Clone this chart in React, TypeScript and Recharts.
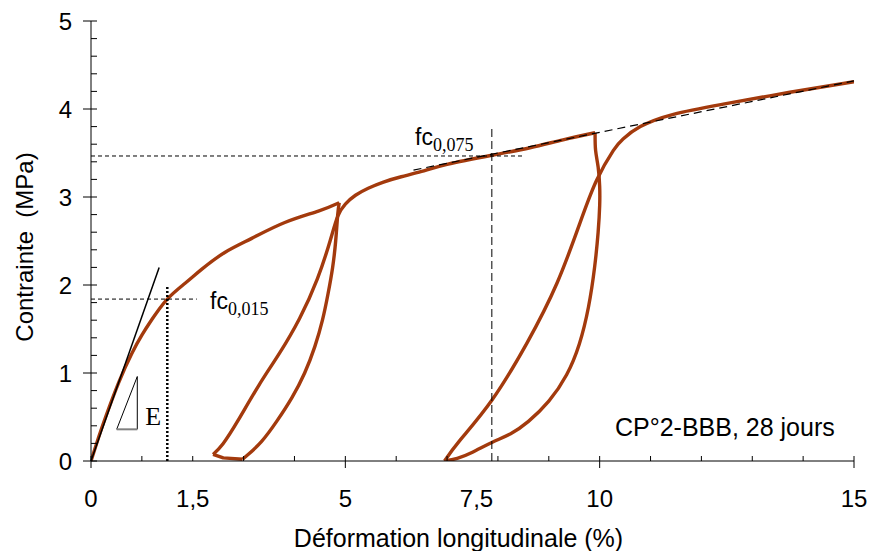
import React from 'react';
import { ComposedChart, Line, XAxis, YAxis, ReferenceLine, ReferenceDot, Label } from 'recharts';

const SANS = '"Liberation Sans", Arial, sans-serif';
const SERIF = '"Liberation Serif", "Times New Roman", serif';
const CURVE = '#A33A0D';

// strain (%) / stress (MPa), one array per branch
const loadA: [number, number][] = [
  [0, 0], [0.15, 0.27], [0.3, 0.52], [0.55, 0.9], [0.8, 1.22], [1.0, 1.43], [1.2, 1.61],
  [1.5, 1.84], [1.85, 2.02], [2.18, 2.18], [2.63, 2.37], [3.16, 2.53], [3.81, 2.71],
  [4.47, 2.84], [4.88, 2.935],
];
const unloadA: [number, number][] = [
  [4.88, 2.935], [4.85, 2.8], [4.81, 2.5], [4.75, 2.2], [4.66, 1.9], [4.55, 1.6],
  [4.4, 1.3], [4.2, 1.0], [3.95, 0.72], [3.65, 0.45], [3.35, 0.22], [3.1, 0.08], [2.98, 0.02],
];
const footA: [number, number][] = [[2.98, 0.02], [2.6, 0.035], [2.4, 0.075]];
const reloadA: [number, number][] = [
  [2.4, 0.075], [2.6, 0.2], [2.9, 0.47], [3.3, 0.86], [3.7, 1.22], [4.1, 1.62], [4.45, 2.07],
  [4.7, 2.5], [4.85, 2.78], [5.0, 2.92], [5.2, 3.02], [5.45, 3.1], [5.75, 3.17], [6.1, 3.23],
  [6.5, 3.29], [7.0, 3.37], [7.88, 3.474], [8.63, 3.56], [9.28, 3.65], [9.91, 3.73],
];
const unloadB: [number, number][] = [
  [9.91, 3.73], [9.92, 3.53], [9.97, 3.34], [10.0, 3.12], [10.0, 2.9], [9.97, 2.6],
  [9.9, 2.2], [9.78, 1.75], [9.6, 1.33], [9.35, 0.98], [9.0, 0.68], [8.6, 0.45],
  [8.25, 0.31], [7.88, 0.21], [7.5, 0.1], [7.2, 0.03], [6.95, 0],
];
const reloadB: [number, number][] = [
  [6.95, 0], [7.26, 0.24], [7.88, 0.69], [8.57, 1.34], [9.16, 2.02], [9.61, 2.7],
  [9.94, 3.19], [10.27, 3.53], [10.46, 3.66], [10.8, 3.8], [11.45, 3.94], [12.43, 4.055],
  [13.74, 4.19], [15, 4.31],
];

// construction lines
const tangentE: [number, number][] = [[0, 0], [1.34, 2.2]];
const triangleE: [number, number][] = [[0.505, 0.36], [0.91, 0.36], [0.91, 0.96]];
const fc015Level = 1.84;
const fc015Strain = 1.5;
const fc075Level = 3.466;
const fc075Strain = 7.88;
const tangentFc: [number, number][] = [[6.34, 3.306], [15, 4.32]];

// axes
const xTicks = [0, 1, 2, 3, 4, 5, 6, 7, 7.5, 8, 9, 10, 11, 12, 13, 14, 15];
const xLabelAt = [0, 2, 5, 7.5, 10, 15];
const xLabelText = ['0', '1,5', '5', '7,5', '10', '15'];
const yTicks = [0, 0.2, 0.4, 0.6, 0.8, 1, 1.2, 1.4, 1.6, 1.8, 2, 2.2, 2.4, 2.6, 2.8, 3, 3.2, 3.4, 3.6, 3.8, 4, 4.2, 4.4, 4.6, 4.8, 5];

const branches = [
  { pts: loadA, type: 'natural' },
  { pts: unloadA, type: 'natural' },
  { pts: footA, type: 'linear' },
  { pts: reloadA, type: 'natural' },
  { pts: unloadB, type: 'natural' },
  { pts: reloadB, type: 'natural' },
];

const toPts = (arr: [number, number][]) => arr.map(([x, y]) => ({ x, y }));
const seg = (a: [number, number], b: [number, number]) => [{ x: a[0], y: a[1] }, { x: b[0], y: b[1] }];

function XTick({ x, y, payload }: any) {
  const v = payload.value;
  const i = xLabelAt.indexOf(v);
  const major = v % 5 === 0;
  return (
    <g>
      {Number.isInteger(v) && (
        <line x1={x} x2={x} y1={y - 5} y2={major ? y + 7 : y} stroke="#000" strokeWidth={1} />
      )}
      {i >= 0 && (
        <text x={x + (v === 7.5 ? 4 : 0)} y={y + 46} textAnchor="middle" fontSize={24} fontFamily={SANS} fill="#000">
          {xLabelText[i]}
        </text>
      )}
    </g>
  );
}

function YTick({ x, y, payload }: any) {
  const v = payload.value;
  const major = Math.abs(v - Math.round(v)) < 1e-6;
  return (
    <g>
      <line x1={major ? x - 8 : x} x2={x + 6} y1={y} y2={y} stroke="#000" strokeWidth={1} />
      {major && (
        <text x={x - 19} y={y + 8.5} textAnchor="end" fontSize={24} fontFamily={SANS} fill="#000">
          {Math.round(v)}
        </text>
      )}
    </g>
  );
}

function XTitle({ viewBox }: any) {
  const { x, y, width } = viewBox;
  return (
    <text x={x + width / 2 - 14} y={y + 86} textAnchor="middle" fontSize={25} fontFamily={SANS} fill="#000">
      Déformation longitudinale (%)
    </text>
  );
}

function YTitle({ viewBox }: any) {
  const { x, y, height } = viewBox;
  const cx = x + 24;
  const cy = y + height / 2 + 6;
  return (
    <text x={cx} y={cy} transform={`rotate(-90 ${cx} ${cy})`} textAnchor="middle" dominantBaseline="central"
      fontSize={24} fontFamily={SANS} fill="#000" style={{ whiteSpace: 'pre' }}>
      {'Contrainte  (MPa)'}
    </text>
  );
}

const fcLabel = (sub: string) => (props: any) => {
  const { x, y } = props.viewBox;
  return (
    <text x={x} y={y} fontSize={23} fontFamily={SANS} fill="#000">
      fc
      <tspan dy={6} fontSize={18} fontFamily={SERIF}>{sub}</tspan>
    </text>
  );
};

const plainLabel = (text: string, family: string, size: number, anchor: string) => (props: any) => {
  const { x, y } = props.viewBox;
  return (
    <text x={x} y={y} fontSize={size} fontFamily={family} textAnchor={anchor} fill="#000">
      {text}
    </text>
  );
};

export default function App() {
  return (
    <div style={{ width: 869, height: 551, background: '#fff' }}>
      <style>{'body{margin:0}'}</style>
      <ComposedChart width={869} height={551} margin={{ top: 21, right: 15, bottom: 0, left: 0 }}>
        <XAxis type="number" dataKey="x" domain={[0, 15]} ticks={xTicks} interval={0}
          tick={(p: any) => <XTick {...p} />} tickLine={false} tickSize={0} tickMargin={0}
          axisLine={{ stroke: '#000', strokeWidth: 1 }} height={90} allowDataOverflow>
          <Label content={(p: any) => <XTitle {...p} />} />
        </XAxis>
        <YAxis type="number" domain={[0, 5]} ticks={yTicks} interval={0}
          tick={(p: any) => <YTick {...p} />} tickLine={false} tickSize={0} tickMargin={0}
          axisLine={{ stroke: '#000', strokeWidth: 1 }} width={91} allowDataOverflow>
          <Label content={(p: any) => <YTitle {...p} />} />
        </YAxis>

        {branches.map((b, i) => (
          <Line key={i} data={toPts(b.pts)} dataKey="y" type={b.type as any} stroke={CURVE}
            strokeWidth={3.4} strokeLinejoin="round" dot={false} activeDot={false}
            isAnimationActive={false} />
        ))}

        <ReferenceLine segment={seg(tangentE[0], tangentE[1])} stroke="#000" strokeWidth={1.5} ifOverflow="visible" />
        <ReferenceLine segment={seg(triangleE[0], triangleE[2])} stroke="#000" strokeWidth={1} ifOverflow="visible" />
        <ReferenceLine segment={seg(triangleE[1], triangleE[2])} stroke="#000" strokeWidth={1} ifOverflow="visible" />
        <ReferenceLine segment={seg(triangleE[0], triangleE[1])} stroke="#808080" strokeWidth={2} ifOverflow="visible" />

        <ReferenceLine segment={seg([0, fc015Level], [2.08, fc015Level])} stroke="#000" strokeWidth={1} strokeDasharray="4 3" ifOverflow="visible" />
        <ReferenceLine segment={seg([fc015Strain, 0], [fc015Strain, 2.0])} stroke="#000" strokeWidth={2.5} strokeDasharray="2 2" ifOverflow="visible" />
        <ReferenceLine segment={seg([0, fc075Level], [8.53, fc075Level])} stroke="#000" strokeWidth={1} strokeDasharray="4 3" ifOverflow="visible" />
        <ReferenceLine segment={seg([fc075Strain, 0], [fc075Strain, 3.78])} stroke="#000" strokeWidth={1} strokeDasharray="8 4" ifOverflow="visible" />
        <ReferenceLine segment={seg(tangentFc[0], tangentFc[1])} stroke="#000" strokeWidth={1.2} strokeDasharray="8 5" ifOverflow="visible" />

        <ReferenceDot x={2.34} y={1.724} r={0} fill="none" stroke="none" ifOverflow="visible" label={fcLabel('0,015')} />
        <ReferenceDot x={6.37} y={3.59} r={0} fill="none" stroke="none" ifOverflow="visible" label={fcLabel('0,075')} />
        <ReferenceDot x={1.225} y={0.406} r={0} fill="none" stroke="none" ifOverflow="visible" label={plainLabel('E', SERIF, 26, 'middle')} />
        <ReferenceDot x={10.3} y={0.284} r={0} fill="none" stroke="none" ifOverflow="visible" label={plainLabel('CP°2-BBB, 28 jours', SANS, 25, 'start')} />
      </ComposedChart>
    </div>
  );
}
